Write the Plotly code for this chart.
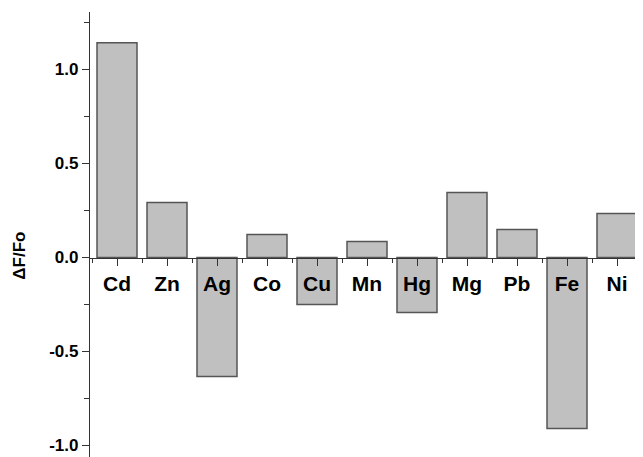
import plotly.graph_objects as go

metals = ["Cd", "Zn", "Ag", "Co", "Cu", "Mn", "Hg", "Mg", "Pb", "Fe", "Ni"]
delta_f = [1.142, 0.293, -0.633, 0.122, -0.25, 0.085, -0.293, 0.346, 0.149, -0.91, 0.234]
y_ticks = [-1.0, -0.5, 0.0, 0.5, 1.0]
y_tick_labels = ["-1.0", "-0.5", "0.0", "0.5", "1.0"]
y_title = "ΔF/Fo"

x_pos = list(range(len(metals)))
y_min, y_max = -1.061, 1.306

fig = go.Figure(go.Bar(
    x=x_pos, y=delta_f, width=0.8,
    marker=dict(color="#c0c0c0", line=dict(color="#555555", width=1.5)),
))

fig.update_layout(
    width=643, height=457,
    margin=dict(l=82, r=8, t=4, b=8),
    plot_bgcolor="white", paper_bgcolor="white",
    showlegend=False,
    font=dict(family="Liberation Sans, Arial, sans-serif", color="black"),
    xaxis=dict(
        range=[-0.54, 10.52], automargin=False,
        tickmode="array", tickvals=x_pos, ticktext=metals,
        tickfont=dict(size=21, weight="bold"),
        ticks="outside", ticklen=7, tickwidth=1.3, tickcolor="#333",
        minor=dict(tickvals=[i + 0.5 for i in x_pos[:-1]] + [-0.5], ticks="outside",
                   ticklen=4, tickwidth=1.3, tickcolor="#333"),
        showline=True, linecolor="#333", linewidth=1.3,
        showgrid=False, zeroline=False,
        anchor="free", position=(0 - y_min) / (y_max - y_min),
    ),
    yaxis=dict(
        range=[y_min, y_max], automargin=False,
        tickmode="array", tickvals=y_ticks, ticktext=y_tick_labels,
        tickfont=dict(size=17, weight="bold"),
        ticks="outside", ticklen=7, tickwidth=1.3, tickcolor="#333",
        minor=dict(tickvals=[-0.75, -0.25, 0.25, 0.75, 1.25], ticks="outside",
                   ticklen=5, tickwidth=1.3, tickcolor="#333"),
        showline=True, linecolor="#333", linewidth=1.3,
        showgrid=False, zeroline=False,
    ),
    annotations=[dict(
        text=y_title, textangle=-90, showarrow=False,
        xref="paper", x=0, xanchor="center", xshift=-70,
        yref="y", y=0.01, yanchor="middle",
        font=dict(size=17, weight="bold", color="black"),
    )],
)

fig.write_html("out.html")
